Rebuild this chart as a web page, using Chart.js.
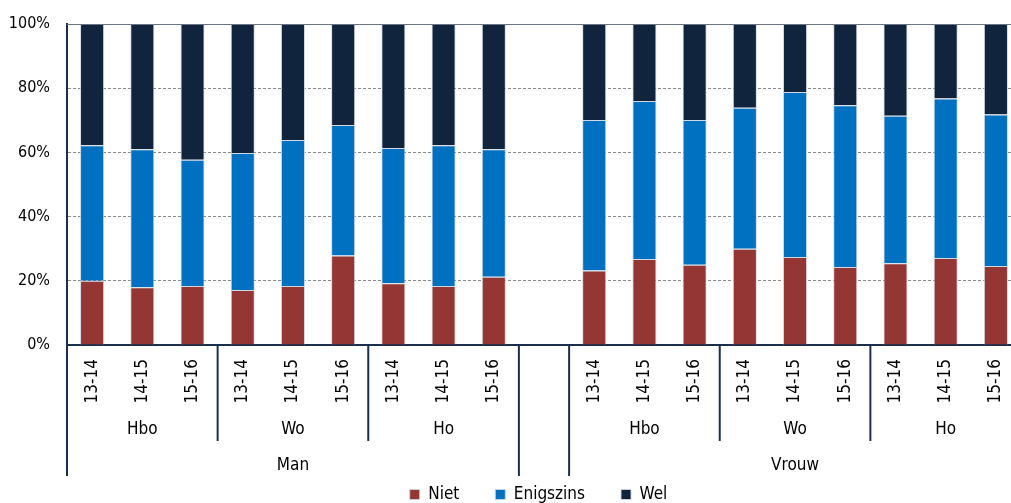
<!DOCTYPE html>
<html><head><meta charset="utf-8">
<script src="https://cdn.jsdelivr.net/npm/chart.js@4/dist/chart.umd.min.js"></script>
<style>
html,body{margin:0;padding:0;background:#fff;overflow:hidden;}
#wrap{width:1011px;height:503px;overflow:hidden;position:relative;}
#box{width:1021px;height:513px;position:absolute;left:0;top:0;}
</style></head><body>
<div id="wrap"><div id="box"><canvas id="c"></canvas></div></div>
<script>
// ---- data ----
const years = ['13-14','14-15','15-16'];
const levels = ['Hbo','Wo','Ho'];
const genders = ['Man','Vrouw'];
const seriesNames = ['Niet','Enigszins','Wel'];
const niet      = [20.0,18.0,18.4,17.1,18.4,27.9,19.2,18.4,21.3,null,23.2,26.8,25.0,30.0,27.4,24.3,25.5,27.1,24.6];
const enigszins = [42.2,43.0,39.3,42.7,45.5,40.6,42.2,43.8,39.7,null,46.9,49.2,45.1,43.9,51.4,50.4,45.9,49.7,47.2];
const wel       = [37.8,39.0,42.3,40.2,36.1,31.5,38.6,37.8,39.0,null,29.9,24.0,29.9,26.1,21.2,25.3,28.6,23.2,28.2];
const yTicks = [0,20,40,60,80,100];

// ---- styles ----
const COLORS = ['#943634','#0070C0','#10243E'];
const AXIS = '#1B2F4C';
const FONT = '"DejaVu Sans Condensed", "DejaVu Sans", sans-serif';

const categories = [];
genders.forEach((g, gi) => {
  if (gi > 0) categories.push('');
  levels.forEach(() => years.forEach(y => categories.push(y)));
});

const groupPlugin = {
  id: 'groupAxis',
  afterLayout(chart) {
    const lg = chart.legend;
    if (lg) { lg.left += 28; lg.right += 28; }
  },
  afterDraw(chart) {
    const x = chart.scales.x, y = chart.scales.y;
    const ctx = chart.ctx;
    const top = x.top;
    const per = levels.length * years.length;
    ctx.save();
    // top line at 100%
    ctx.strokeStyle = '#6B7482'; ctx.lineWidth = 1;
    const yt = Math.round(y.getPixelForValue(100)) + 0.5;
    ctx.beginPath(); ctx.moveTo(chart.chartArea.left, yt); ctx.lineTo(chart.chartArea.right, yt); ctx.stroke();

    ctx.strokeStyle = AXIS; ctx.lineWidth = 2;
    ctx.fillStyle = '#000';
    ctx.font = '17px ' + FONT;
    ctx.textAlign = 'center'; ctx.textBaseline = 'middle';
    const vline = (px, y0, y1) => { ctx.beginPath(); ctx.moveTo(px, y0); ctx.lineTo(px, y1); ctx.stroke(); };
    genders.forEach((g, gi) => {
      const start = gi * (per + 1);
      const end = start + per;
      const xl = x.getPixelForValue(start - 0.5), xr = x.getPixelForValue(end - 0.5);
      vline(xl, top, top + 131); vline(xr, top, top + 131);
      ctx.fillText(g, (xl + xr) / 2, top + 121);
      levels.forEach((l, li) => {
        const s = start + li * years.length, e = s + years.length;
        const a = x.getPixelForValue(s - 0.5), b = x.getPixelForValue(e - 0.5);
        if (li > 0) vline(a, top, top + 96);
        ctx.fillText(l, (a + b) / 2, top + 85);
      });
    });
    ctx.restore();
  }
};

new Chart(document.getElementById('c'), {
  type: 'bar',
  data: {
    labels: categories,
    datasets: [niet, enigszins, wel].map((d, i) => ({
      label: seriesNames[i], data: d, backgroundColor: COLORS[i],
      borderColor: 'rgba(205,212,222,0.9)', borderWidth: 1,
      barPercentage: 0.48, categoryPercentage: 1
    }))
  },
  options: {
    responsive: true, maintainAspectRatio: false, animation: false,
    layout: { padding: { top: 24, left: 0, right: 0, bottom: 0 } },
    plugins: {
      tooltip: { enabled: false },
      legend: {
        position: 'bottom',
        labels: { boxWidth: 10, boxHeight: 10, padding: 36, color: '#000', font: { family: FONT, size: 17 } }
      }
    },
    scales: {
      x: {
        stacked: true,
        grid: { display: false, drawTicks: false },
        border: { display: true, color: AXIS, width: 2 },
        ticks: { autoSkip: false, minRotation: 90, maxRotation: 90, padding: 14, color: '#000', font: { family: FONT, size: 17 } },
        afterFit(s) { s.height = 105; s.paddingLeft = 0; s.paddingRight = 0; }
      },
      y: {
        stacked: true, min: 0, max: 100,
        afterBuildTicks(s) { s.ticks = yTicks.map(v => ({ value: v })); },
        grid: {
          drawTicks: false,
          color: c => (c.tick && (c.tick.value === 0 || c.tick.value === 100)) ? 'rgba(0,0,0,0)' : '#8A8A8A',
          lineWidth: 1
        },
        border: { display: true, color: AXIS, width: 2, dash: c => (c.tick ? [3, 2] : []) },
        ticks: { padding: 17, color: '#000', font: { family: FONT, size: 16 }, callback: v => v + '%' },
        afterFit(s) { s.width = 67; s.paddingTop = 0; s.paddingBottom = 0; }
      }
    }
  },
  plugins: [groupPlugin]
});
</script>
</body></html>
